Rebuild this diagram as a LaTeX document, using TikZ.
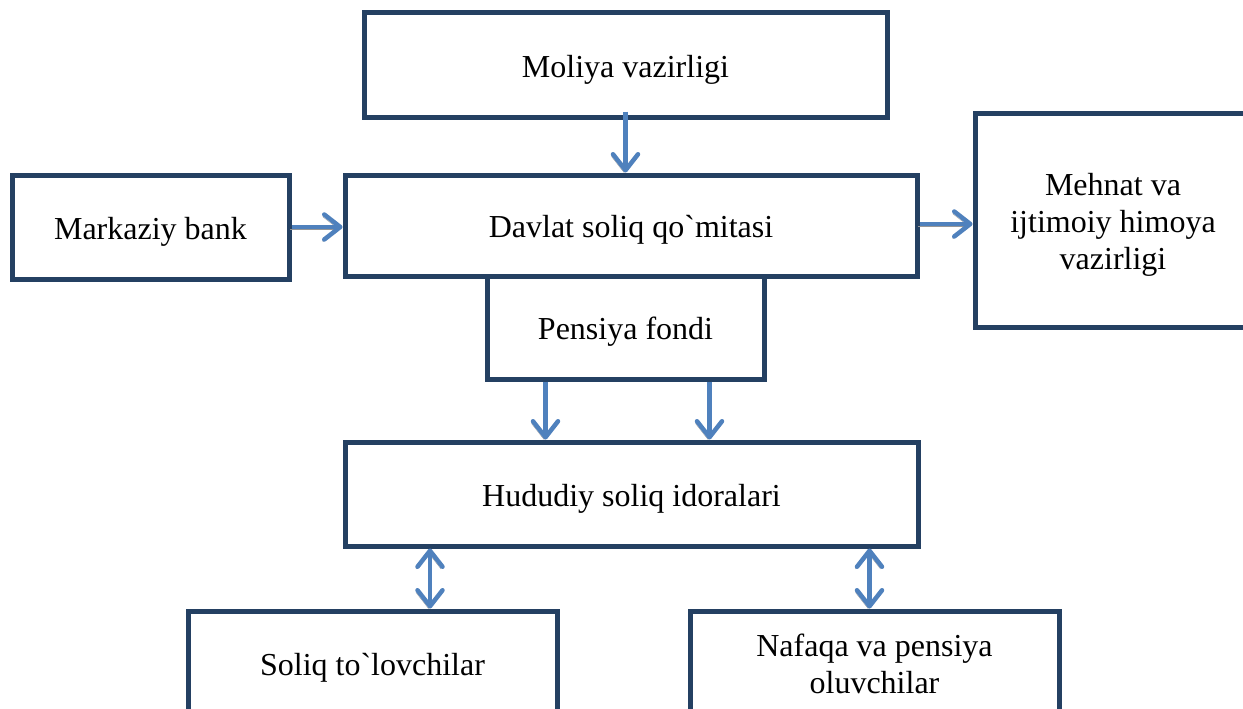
\documentclass[tikz,border=0pt]{standalone}
\usepackage{fontspec}
\setmainfont{Liberation Serif}[Ligatures=TeXOff]
\usetikzlibrary{arrows.meta}
\definecolor{navy}{RGB}{36,64,98}
\definecolor{arrblue}{RGB}{79,129,189}
\definecolor{shad}{RGB}{150,150,150}
\newcommand{\bxtext}[1]{\raisebox{-5pt}[\height][\depth]{\begin{tabular}{@{}c@{}}#1\end{tabular}}}
\begin{document}
\begin{tikzpicture}[x=1pt,y=-1pt,
  box/.style={draw=navy,line width=5pt,fill=white,inner sep=0pt,
    font=\fontsize{32}{37}\selectfont},
  tipb/.tip={Straight Barb[length=16pt,width=25pt,line cap=round,line join=round]},
  arr/.style={draw=arrblue,line width=4.5pt,-tipb,
    preaction={draw=shad,transform canvas={shift={(-1.5pt,-2.2pt)}}}},
  darr/.style={draw=arrblue,line width=4.5pt,tipb-tipb,
    preaction={draw=shad,transform canvas={shift={(-1.5pt,-2.2pt)}}}}]
\useasboundingbox (0,0) rectangle (1243,709);
\clip (0,0) rectangle (1243,709);
\fill[white] (0,0) rectangle (1243,709);
% boxes
\node[box,minimum width=523pt,minimum height=104pt] (moliya) at (625.5,65) {\bxtext{Moliya vazirligi}};
\node[box,minimum width=277pt,minimum height=104pt] (markaziy) at (150.5,227) {\bxtext{Markaziy bank}};
\node[box,minimum width=572pt,minimum height=101pt] (davlat) at (631,225.5) {\bxtext{Davlat soliq qo`mitasi}};
\node[box,minimum width=277pt,minimum height=103pt] (pensiya) at (625.5,327.5) {\bxtext{Pensiya fondi}};
\node[box,minimum width=276pt,minimum height=214pt] (mehnat) at (1113,220) {\bxtext{Mehnat va\\ijtimoiy himoya\\vazirligi}};
\node[box,minimum width=573pt,minimum height=104pt] (hududiy) at (631.5,494) {\bxtext{Hududiy soliq idoralari}};
\node[box,minimum width=369pt,minimum height=104pt] (soliq) at (372.5,663) {\bxtext{Soliq to`lovchilar}};
\node[box,minimum width=369pt,minimum height=104pt] (nafaqa) at (874.5,663) {\bxtext{Nafaqa va pensiya\\oluvchilar}};
% connectors
\coordinate (m1) at ([yshift=8pt]moliya.south);
\draw[arr] (m1) -- (m1 |- davlat.north);
\draw[arr] (markaziy.east) -- (markaziy.east -| davlat.west);
\coordinate (d1) at ([yshift=1.5pt]davlat.east);
\draw[arr] (d1) -- (d1 -| mehnat.west);
\coordinate (p1) at ([xshift=-80pt]pensiya.south);
\coordinate (p2) at ([xshift=84pt]pensiya.south);
\draw[arr] (p1) -- (p1 |- hududiy.north);
\draw[arr] (p2) -- (p2 |- hududiy.north);
\coordinate (s1) at ([xshift=57.5pt]soliq.north);
\coordinate (n1) at ([xshift=-5pt]nafaqa.north);
\draw[darr] (s1 |- hududiy.south) -- (s1);
\draw[darr] (n1 |- hududiy.south) -- (n1);
\end{tikzpicture}
\end{document}
